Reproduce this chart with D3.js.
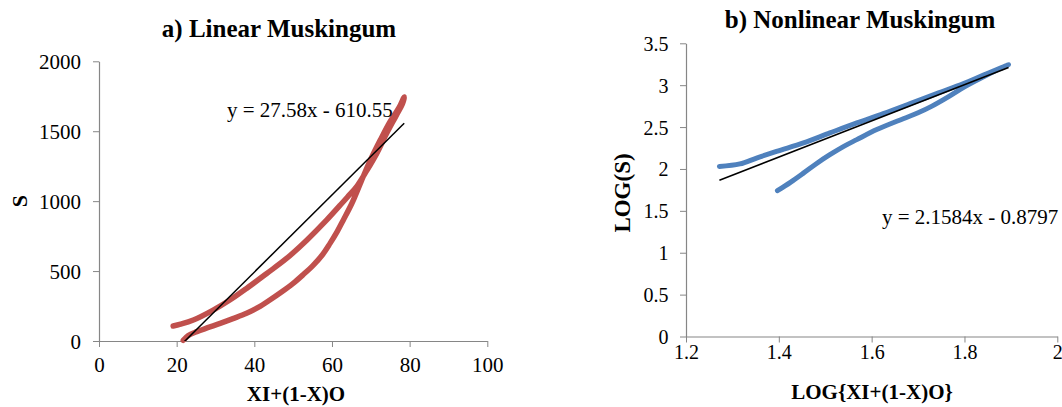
<!DOCTYPE html>
<html>
<head>
<meta charset="utf-8">
<script src="https://cdn.jsdelivr.net/npm/d3@7"></script>
<style>
    body { margin: 0; background: #fff; }
    svg { display: block; }
    .domain, .tick line { stroke: #868686; }
</style>
</head>
<body>
<svg id="chart" width="1062" height="407"></svg>
<script>
const FONT = '"Liberation Serif", "Times New Roman", serif';

// a) linear: storage S against weighted flow XI+(1-X)O
const linearRising = [
    [21.7, 5], [23, 40], [25.2, 67], [28, 95], [31.2, 126], [34.5, 160], [38, 198], [41, 240],
    [44, 293], [47, 350], [50, 412], [52.6, 475], [55.2, 543], [57.5, 615], [59.5, 698],
    [61.3, 780], [62.9, 864], [65.1, 983], [67.5, 1140], [70, 1300], [72.5, 1440],
    [75, 1570], [77.3, 1670], [78.6, 1745]
];
const linearFalling = [
    [78.2, 1700], [76.5, 1610], [74, 1480], [71.5, 1340], [69, 1220], [66.5, 1110],
    [64, 1030], [62.1, 971], [58.6, 864], [53.5, 721], [48.3, 590], [43.2, 483],
    [38, 376], [33.7, 293], [29.4, 221], [24.3, 150], [21, 120], [19.1, 107]
];
const linearTrend = [27.58, -610.55];
const linearXTicks = [0, 20, 40, 60, 80, 100];
const linearYTicks = [0, 500, 1000, 1500, 2000];

// b) nonlinear: LOG(S) against LOG{XI+(1-X)O}
const logRising = [
    [1.397, 1.74], [1.425, 1.84], [1.453, 1.95], [1.48, 2.06], [1.51, 2.17], [1.54, 2.27],
    [1.568, 2.35], [1.611, 2.47], [1.668, 2.60], [1.70, 2.67], [1.73, 2.75],
    [1.765, 2.86], [1.80, 2.98], [1.841, 3.10], [1.87, 3.18], [1.895, 3.245]
];
const logFalling = [
    [1.88, 3.21], [1.841, 3.12], [1.798, 3.02], [1.74, 2.90], [1.683, 2.78], [1.625, 2.66],
    [1.568, 2.55], [1.51, 2.43], [1.453, 2.31], [1.395, 2.21], [1.352, 2.13],
    [1.316, 2.06], [1.272, 2.03]
];
const logTrend = [2.1584, -0.8797];
const logXTicks = [1.2, 1.4, 1.6, 1.8, 2];
const logYTicks = [0, 0.5, 1, 1.5, 2, 2.5, 3, 3.5];

const svg = d3.select("#chart").style("font-family", FONT);

function drawPanel(o) {
    const g = svg.append("g");
    const x = d3.scaleLinear().domain(d3.extent(o.xTicks)).range([o.left, o.right]);
    const y = d3.scaleLinear().domain(d3.extent(o.yTicks)).range([o.bottom, o.top]);

    g.append("clipPath").attr("id", o.id + "-clip")
        .append("rect")
        .attr("x", o.left).attr("y", o.top)
        .attr("width", o.right - o.left).attr("height", o.bottom - o.top);

    const xAxis = g.append("g")
        .attr("transform", `translate(0,${o.bottom})`)
        .call(d3.axisBottom(x).tickValues(o.xTicks).tickSize(6).tickSizeOuter(0).tickFormat(d3.format("")));
    const yAxis = g.append("g")
        .attr("transform", `translate(${o.left},0)`)
        .call(d3.axisLeft(y).tickValues(o.yTicks).tickSize(6).tickSizeOuter(0).tickFormat(d3.format("")));

    [xAxis, yAxis].forEach(a => {
        a.attr("font-family", null).attr("font-size", null);
        a.selectAll("text")
            .style("font-family", FONT)
            .style("font-size", o.tickFont + "px")
            .attr("fill", "#000");
    });
    xAxis.selectAll("text").attr("y", o.xLabelY).attr("dy", 0);
    yAxis.selectAll("text").attr("x", -o.yLabelGap).attr("dy", "0.35em");
    g.selectAll(".domain").attr("stroke-width", 1.2);

    const line = d3.line()
        .x(d => x(d[0]))
        .y(d => y(d[1]))
        .curve(d3.curveCatmullRom.alpha(0.5));

    const loop = o.rising.concat(o.falling);
    g.append("path")
        .datum(loop)
        .attr("fill", "none")
        .attr("stroke", o.color)
        .attr("stroke-width", o.lineWidth)
        .attr("stroke-linecap", "round")
        .attr("stroke-linejoin", "round")
        .attr("d", line);

    // trend line spans the data's x range, cut at the plot area
    const xr = d3.extent(loop, d => d[0]);
    const trend = xr.map(v => [v, o.trend[0] * v + o.trend[1]]);
    g.append("line")
        .attr("clip-path", `url(#${o.id}-clip)`)
        .attr("x1", x(trend[0][0])).attr("y1", y(trend[0][1]))
        .attr("x2", x(trend[1][0])).attr("y2", y(trend[1][1]))
        .attr("stroke", "#000")
        .attr("stroke-width", 1.5);

    g.append("text")
        .attr("x", o.eqX).attr("y", o.eqY)
        .style("font-size", o.eqFont + "px")
        .text(o.equation);

    g.append("text")
        .attr("x", o.titleX).attr("y", o.titleY)
        .attr("text-anchor", "middle")
        .style("font-size", "25px").style("font-weight", "bold")
        .text(o.title);

    g.append("text")
        .attr("x", o.xTitleX).attr("y", o.xTitleY)
        .attr("text-anchor", "middle")
        .style("font-size", "21px").style("font-weight", "bold")
        .text(o.xTitle);

    g.append("text")
        .attr("transform", `translate(${o.yTitleX},${o.yTitleY}) rotate(-90)`)
        .attr("text-anchor", "middle")
        .style("font-size", o.yTitleFont + "px").style("font-weight", "bold")
        .text(o.yTitle);
}

drawPanel({
    id: "lin", left: 99, right: 487.3, top: 61.3, bottom: 341,
    xTicks: linearXTicks, yTicks: linearYTicks,
    rising: linearRising, falling: linearFalling, trend: linearTrend,
    color: "#C0504D", lineWidth: 5.5,
    tickFont: 21, xLabelY: 31, yLabelGap: 18,
    equation: "y = 27.58x - 610.55", eqX: 227, eqY: 117, eqFont: 21,
    title: "a) Linear Muskingum", titleX: 279, titleY: 37,
    xTitle: "XI+(1-X)O", xTitleX: 296, xTitleY: 401,
    yTitle: "S", yTitleX: 27, yTitleY: 201, yTitleFont: 22
});

drawPanel({
    id: "log", left: 686, right: 1057.3, top: 43.3, bottom: 336.5,
    xTicks: logXTicks, yTicks: logYTicks,
    rising: logRising, falling: logFalling, trend: logTrend,
    color: "#4F81BD", lineWidth: 5,
    tickFont: 20, xLabelY: 22.5, yLabelGap: 17.5,
    equation: "y = 2.1584x - 0.8797", eqX: 882, eqY: 223.5, eqFont: 21,
    title: "b) Nonlinear Muskingum", titleX: 860, titleY: 28.3,
    xTitle: "LOG{XI+(1-X)O}", xTitleX: 872, xTitleY: 399,
    yTitle: "LOG(S)", yTitleX: 630, yTitleY: 193, yTitleFont: 23
});
</script>
</body>
</html>
